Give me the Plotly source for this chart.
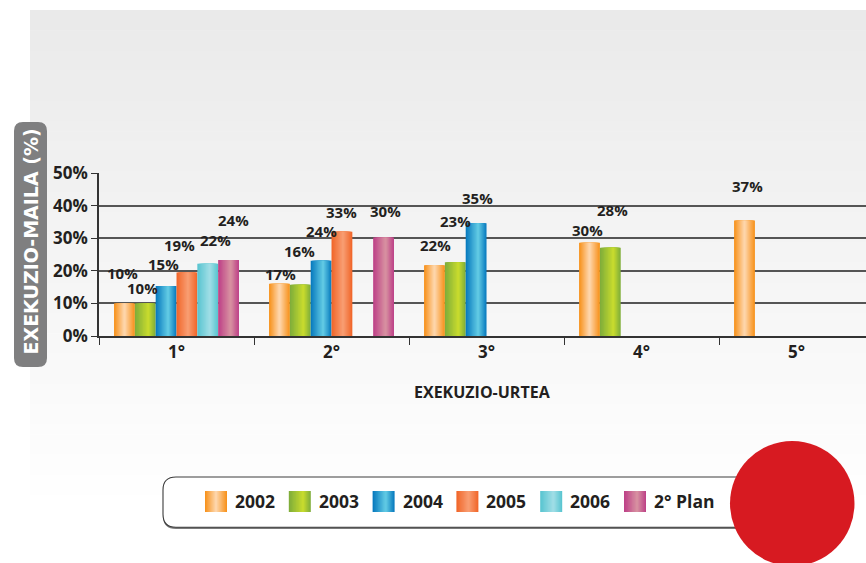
import plotly.graph_objects as go

# ---------------- data ----------------
categories = ['1°', '2°', '3°', '4°', '5°']
series_names = ['2002', '2003', '2004', '2005', '2006', '2° Plan']

v2002 = [10.0, 16.0, 21.7, 28.6, 35.4]
v2003 = [10.0, 15.7, 22.6, 27.1, None]
v2004 = [15.3, 23.1, 34.6, None, None]
v2005 = [19.5, 32.0, None, None, None]
v2006 = [22.2, None, None, None, None]
vplan = [23.3, 30.2, None, None, None]

l2002 = ['10%', '17%', '22%', '30%', '37%']
l2003 = ['10%', '16%', '23%', '28%', None]
l2004 = ['15%', '24%', '35%', None, None]
l2005 = ['19%', '33%', None, None, None]
l2006 = ['22%', None, None, None, None]
lplan = ['24%', '30%', None, None, None]

y_ticks = [0, 10, 20, 30, 40, 50]
y_tick_text = ['0%', '10%', '20%', '30%', '40%', '50%']

values = [v2002, v2003, v2004, v2005, v2006, vplan]
labels = [l2002, l2003, l2004, l2005, l2006, lplan]

# label placement tweaks (pixels), per series / category
label_dx = [[-2, 1, 1.5, -2, 3], [-3, -1, 0, 2, 0], [-3, 0, 1.5, 0, 0],
            [-7, 0, 0, 0, 0], [8, 0, 0, 0, 0], [5, 2, 0, 0, 0]]
label_dy = [[30, 10, 20, 13, 35], [15.5, 34, 41, 38, 0], [22, 30, 25, 0, 0],
            [27, 20, 0, 0, 0], [24, 0, 0, 0, 0], [40, 27, 0, 0, 0]]

# gradient styles: (edge colour, centre colour, centre position)
styles = [('#f7931e', '#fed5aa', 0.5),
          ('#80ae3a', '#c6da2e', 0.65),
          ('#0a7cbf', '#5fc8e3', 0.6),
          ('#f1672b', '#f89c70', 0.55),
          ('#5ac5d1', '#9edde5', 0.6),
          ('#be4388', '#d78fa0', 0.6)]

# ---------------- geometry ----------------
W, H = 866, 563
PL, PT, PW, PH = 99, 173, 767, 163
XR = [-0.5, 4.448]
PXU = PW / (XR[1] - XR[0])
GROUP_W = 0.806
BAR_W = GROUP_W / 6
NL = 10

FONT = 'Open Sans'
DARK = '#231f20'


def xp(px):
    return (px - PL) / PW


def yp(py):
    return (PT + PH - py) / PH


def h2rgb(h):
    h = h.lstrip('#')
    return tuple(int(h[i:i + 2], 16) for i in (0, 2, 4))


def mix(c1, c2, t):
    a, b = h2rgb(c1), h2rgb(c2)
    return 'rgb(%d,%d,%d)' % tuple(round(a[i] + (b[i] - a[i]) * t) for i in range(3))


def rrect(x0, y0, x1, y1, r):
    P = lambda x, y: '%.5f,%.5f' % (xp(x), yp(y))
    return ('M ' + P(x0 + r, y0) + ' L ' + P(x1 - r, y0) + ' Q ' + P(x1, y0) + ' ' + P(x1, y0 + r) +
            ' L ' + P(x1, y1 - r) + ' Q ' + P(x1, y1) + ' ' + P(x1 - r, y1) +
            ' L ' + P(x0 + r, y1) + ' Q ' + P(x0, y1) + ' ' + P(x0, y1 - r) +
            ' L ' + P(x0, y0 + r) + ' Q ' + P(x0, y0) + ' ' + P(x0 + r, y0) + ' Z')


fig = go.Figure()

# bars: nested layers to imitate the horizontal gradient
for k, (name, vals) in enumerate(zip(series_names, values)):
    edge, centre, cpos = styles[k]
    slot_left = -GROUP_W / 2 + k * BAR_W
    for i in range(NL):
        frac = 1 - i / NL
        t = i / (NL - 1)
        fig.add_trace(go.Bar(
            x=categories, y=vals, name=name, showlegend=False,
            offset=slot_left + BAR_W * (cpos - cpos * frac),
            width=BAR_W * frac,
            marker=dict(color=mix(edge, centre, t), line=dict(width=0)),
            hoverinfo='skip' if i else 'x+y+name',
        ))

shapes = []
# background panel gradient
NS = 50
for i in range(NS):
    y0 = 10 + i * (505 / NS)
    y1 = y0 + 505 / NS + 0.6
    g = round(234 + (255 - 234) * i / (NS - 1))
    shapes.append(dict(type='rect', xref='paper', yref='paper', layer='below',
                       x0=xp(30), x1=xp(866), y0=yp(y1), y1=yp(y0),
                       fillcolor='rgb(%d,%d,%d)' % (g, g, g), line=dict(width=0)))

# y-title box
shapes.append(dict(type='path', xref='paper', yref='paper', path=rrect(14, 122, 47, 367, 9),
                   fillcolor='#7f7f80', line=dict(width=0)))

# legend box with shadow
shapes.append(dict(type='path', xref='paper', yref='paper', path=rrect(163, 478.8, 775, 529, 13),
                   fillcolor='#7a7a7a', line=dict(width=0)))
shapes.append(dict(type='path', xref='paper', yref='paper', path=rrect(163, 477, 775, 527.2, 13),
                   fillcolor='white', line=dict(color='#3c3c3c', width=1.1)))

annotations = []
LEG_X0, LEG_STEP = 205, 83.8
for k, name in enumerate(series_names):
    edge, centre, cpos = styles[k]
    sx0 = LEG_X0 + k * LEG_STEP
    sw = 22
    for i in range(NL):
        frac = 1 - i / NL
        t = i / (NL - 1)
        a = sx0 + sw * (cpos - cpos * frac)
        b = a + sw * frac
        shapes.append(dict(type='rect', xref='paper', yref='paper',
                           x0=xp(a), x1=xp(b), y0=yp(512), y1=yp(491),
                           fillcolor=mix(edge, centre, t), line=dict(width=0)))
    annotations.append(dict(xref='paper', yref='paper', x=xp(sx0 + 28), y=yp(501.5),
                            text=name, showarrow=False, xanchor='left', yanchor='middle',
                            font=dict(family=FONT, size=17.5, color=DARK, weight=700)))

# red circle
shapes.append(dict(type='circle', xref='paper', yref='paper',
                   x0=xp(730), x1=xp(854.5), y0=yp(566), y1=yp(441),
                   fillcolor='#d71a21', line=dict(width=0)))

# data labels
for k in range(len(series_names)):
    centre_units = -GROUP_W / 2 + (k + 0.5) * BAR_W
    for j, cat in enumerate(categories):
        v = values[k][j]
        lab = labels[k][j]
        if v is None or lab is None:
            continue
        annotations.append(dict(xref='x', yref='y', x=cat, y=v, text=lab, showarrow=False,
                                xanchor='center', yanchor='middle',
                                xshift=centre_units * PXU + label_dx[k][j],
                                yshift=label_dy[k][j],
                                font=dict(family=FONT, size=15, color=DARK, weight=700)))

# axis titles
annotations.append(dict(xref='paper', yref='paper', x=xp(30.5), y=yp(242), text='EXEKUZIO-MAILA (%)',
                        textangle=-90, showarrow=False, xanchor='center', yanchor='middle',
                        font=dict(family='DejaVu Sans', size=19, color='white', weight=700)))
annotations.append(dict(xref='paper', yref='paper', x=xp(482), y=yp(392), text='EXEKUZIO-URTEA',
                        showarrow=False, xanchor='center', yanchor='middle',
                        font=dict(family=FONT, size=16, color=DARK, weight=700)))

fig.update_layout(
    width=W, height=H, autosize=False,
    margin=dict(l=PL, r=W - PL - PW, t=PT, b=H - PT - PH, pad=0),
    paper_bgcolor='white', plot_bgcolor='rgba(0,0,0,0)',
    barmode='overlay', showlegend=False,
    shapes=shapes, annotations=annotations,
    font=dict(family=FONT, color=DARK),
)
fig.update_xaxes(type='category', range=XR, showgrid=False, showline=True, linecolor='#333333',
                 linewidth=2, ticks='outside', tickson='boundaries', ticklen=7, tickcolor='#333333',
                 tickwidth=1.2, tickfont=dict(family=FONT, size=17, color=DARK, weight=700),
                 zeroline=False, fixedrange=True)
fig.update_yaxes(range=[0, 50], tickmode='array', tickvals=y_ticks, ticktext=y_tick_text, showgrid=True,
                 gridcolor='#555555', gridwidth=1.5, showline=True, linecolor='#333333', linewidth=1.5,
                 ticks='outside', ticklen=6, tickcolor='#333333', tickwidth=1.2,
                 tickfont=dict(family=FONT, size=17, color=DARK, weight=700),
                 zeroline=False, fixedrange=True)

fig.write_html('out.html', config={'displayModeBar': False},
               post_script="document.body.style.margin='0';document.body.style.overflow='hidden';")
